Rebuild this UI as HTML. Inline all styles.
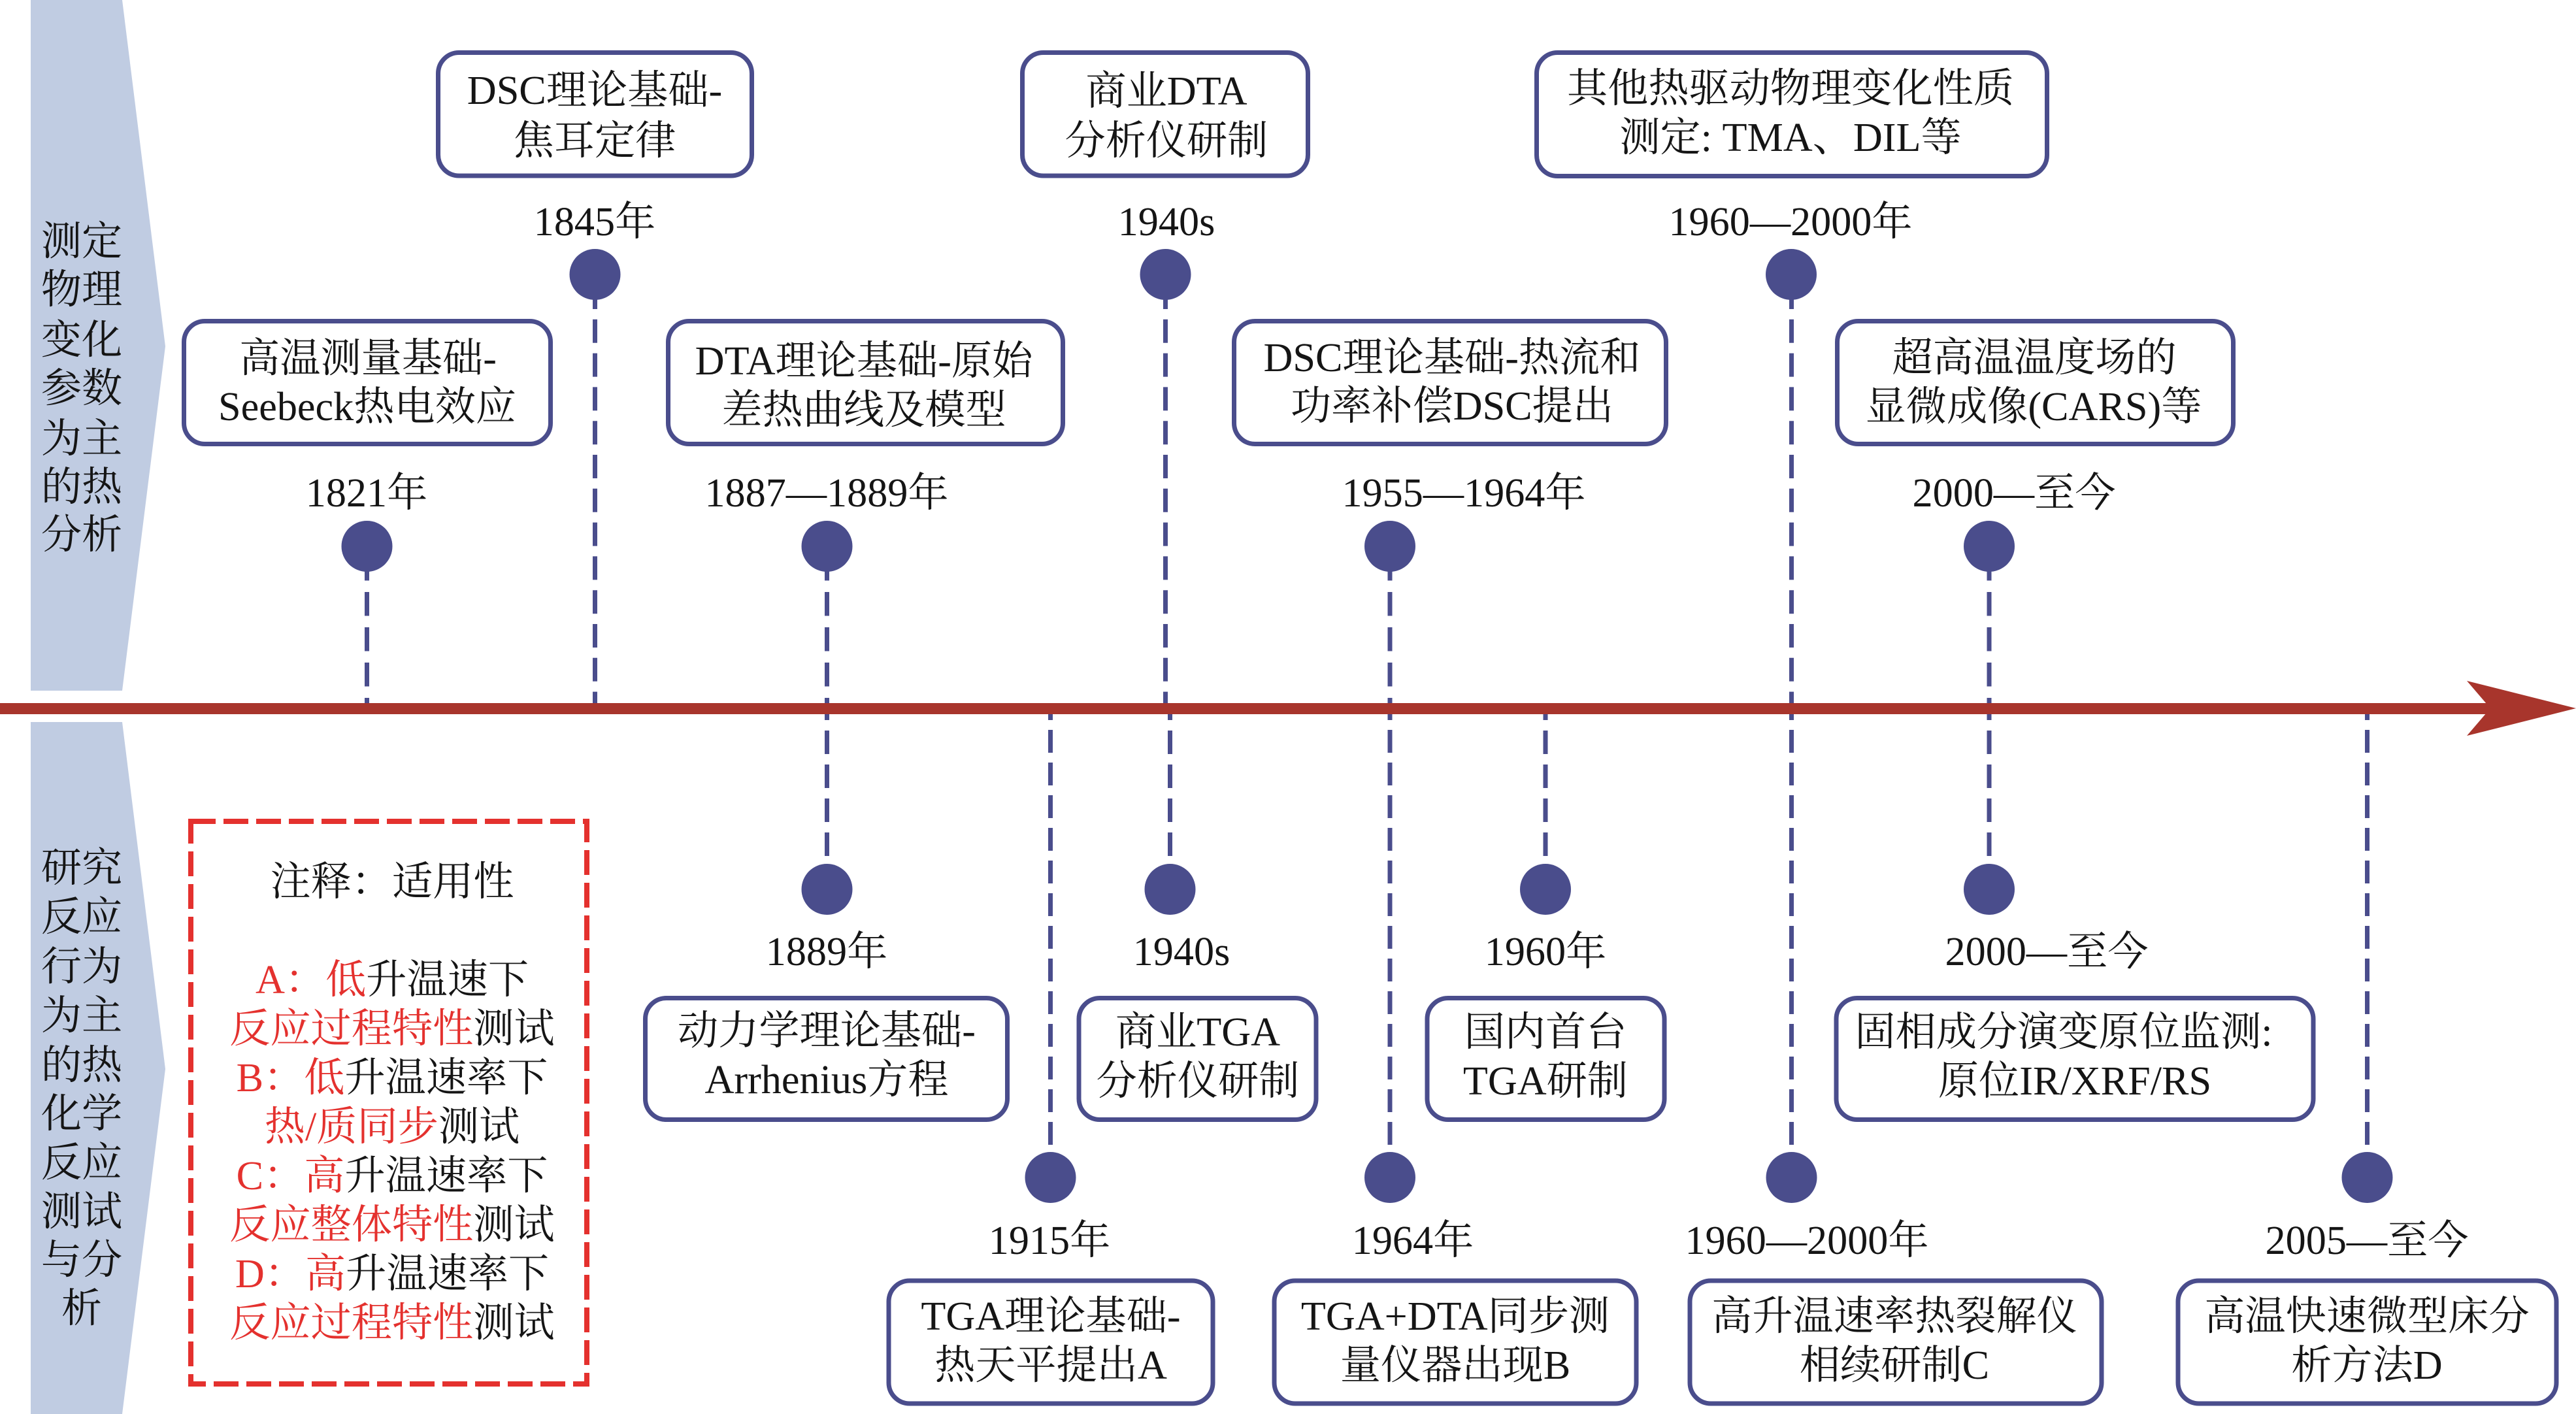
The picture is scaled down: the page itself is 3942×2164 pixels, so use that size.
<!DOCTYPE html>
<html lang="zh-CN"><head><meta charset="utf-8"><title>热分析发展时间线</title>
<style>html,body{margin:0;padding:0;background:#fff;width:3942px;height:2164px;overflow:hidden}
svg{display:block}
text{font-family:"Liberation Serif","Noto Serif CJK SC",serif;font-size:62.2px;fill:#151515;text-anchor:middle}
.b{fill:#fff;stroke:#4a4d8c;stroke-width:7}
.d{stroke:#4a4d8c;stroke-width:7;fill:none}
.u1{stroke-dasharray:36.5 17.5}
.u2{stroke-dasharray:36 15.8}
.l1{stroke-dasharray:36 16;stroke-dashoffset:19}
.l2{stroke-dasharray:35 15;stroke-dashoffset:18}
.c{fill:#4a4d8c}
.r{fill:#e4312e}
</style></head><body>
<svg width="3942" height="2164" viewBox="0 0 3942 2164" xmlns="http://www.w3.org/2000/svg">
<polygon points="47,0 187,0 253,530 187,1057 47,1057" fill="#c0cce2"/>
<polygon points="47,1105 187,1105 253,1636 187,2164 47,2164" fill="#c0cce2"/>
<text x="125" y="390">测定</text><text x="125" y="464">物理</text><text x="125" y="541">变化</text><text x="125" y="615">参数</text><text x="125" y="692">为主</text><text x="125" y="766">的热</text><text x="125" y="839">分析</text>
<text x="125" y="1349">研究</text><text x="125" y="1424">反应</text><text x="125" y="1500">行为</text><text x="125" y="1575">为主</text><text x="125" y="1651">的热</text><text x="125" y="1725">化学</text><text x="125" y="1800">反应</text><text x="125" y="1875">测试</text><text x="125" y="1949">与分</text><text x="125" y="2023">析</text>

<!-- dashed connectors: upper segments -->
<path class="d u1" d="M561.5 852V1085"/><path class="d u1" d="M1265.5 852V1085"/><path class="d u1" d="M2127 852V1085"/><path class="d u1" d="M3044 852V1085"/>
<path class="d u2" d="M910.5 437V1085"/><path class="d u2" d="M1783.5 437V1085"/><path class="d u2" d="M2741.5 437V1085"/>
<!-- lower segments -->
<path class="d l1" d="M1265.5 1085V1310"/><path class="d l1" d="M1790.5 1085V1310"/><path class="d l1" d="M2365 1085V1310"/><path class="d l1" d="M3044 1085V1310"/>
<path class="d l2" d="M1607.5 1085V1752"/><path class="d l2" d="M2127 1085V1752"/><path class="d l2" d="M2741.5 1085V1752"/><path class="d l2" d="M3622.5 1085V1752"/>

<!-- axis -->
<rect x="0" y="1076" width="3815" height="17" fill="#a8352c"/>
<polygon points="3775,1042 3942,1084 3775,1126 3811,1084" fill="#a8352c"/>

<!-- dots -->
<g class="c"><circle cx="561.5" cy="836" r="39"/><circle cx="910.5" cy="420" r="39"/><circle cx="1265.5" cy="836" r="39"/><circle cx="1783.5" cy="420" r="39"/><circle cx="2741" cy="420" r="39"/><circle cx="2127" cy="836" r="39"/><circle cx="3044" cy="836" r="39"/><circle cx="1265.5" cy="1361" r="39"/><circle cx="1790.5" cy="1361" r="39"/><circle cx="2365" cy="1361" r="39"/><circle cx="3044" cy="1361" r="39"/><circle cx="1607.5" cy="1802" r="39"/><circle cx="2127" cy="1802" r="39"/><circle cx="2741.5" cy="1802" r="39"/><circle cx="3622.5" cy="1802" r="39"/></g>

<!-- boxes -->
<rect class="b" x="670.5" y="80.5" width="480" height="188.5" rx="32"/>
<rect class="b" x="281.5" y="491.5" width="561" height="188" rx="32"/>
<rect class="b" x="1022.5" y="491.5" width="604" height="188" rx="32"/>
<rect class="b" x="1564.5" y="80.5" width="437" height="188.5" rx="32"/>
<rect class="b" x="2351.5" y="80.5" width="781" height="189" rx="32"/>
<rect class="b" x="1888.5" y="491.5" width="661" height="188" rx="32"/>
<rect class="b" x="2811.5" y="491.5" width="606" height="188" rx="32"/>
<rect class="b" x="987.5" y="1527.5" width="554" height="186" rx="32"/>
<rect class="b" x="1651" y="1527.5" width="363" height="186" rx="32"/>
<rect class="b" x="2184" y="1527.5" width="363" height="186" rx="32"/>
<rect class="b" x="2810" y="1527.5" width="730" height="186" rx="32"/>
<rect class="b" x="1360" y="1960" width="496" height="188" rx="32"/>
<rect class="b" x="1950" y="1960" width="554" height="188" rx="32"/>
<rect class="b" x="2586" y="1960" width="630" height="188" rx="32"/>
<rect class="b" x="3333" y="1960" width="579" height="188" rx="32"/>

<!-- box text -->
<text x="910" y="159">DSC理论基础-</text><text x="910" y="236">焦耳定律</text>
<text x="1785" y="160">商业DTA</text><text x="1785" y="236">分析仪研制</text>
<text x="2740" y="156">其他热驱动物理变化性质</text><text x="2740" y="231">测定: TMA、DIL等</text>
<text x="563" y="569">高温测量基础-</text><text x="562" y="643">Seebeck热电效应</text>
<text x="1322" y="573">DTA理论基础-原始</text><text x="1322" y="648">差热曲线及模型</text>
<text x="2222" y="568">DSC理论基础-热流和</text><text x="2222" y="642">功率补偿DSC提出</text>
<text x="3113" y="568">超高温温度场的</text><text x="3112" y="643">显微成像(CARS)等</text>
<text x="1265" y="1598">动力学理论基础-</text><text x="1265" y="1673">Arrhenius方程</text>
<text x="1833" y="1600">商业TGA</text><text x="1833" y="1675">分析仪研制</text>
<text x="2365" y="1600">国内首台</text><text x="2365" y="1675">TGA研制</text>
<text x="3158" y="1600">固相成分演变原位监测:</text><text x="3175" y="1675">原位IR/XRF/RS</text>
<text x="1608" y="2035">TGA理论基础-</text><text x="1608" y="2110">热天平提出A</text>
<text x="2227" y="2035">TGA+DTA同步测</text><text x="2227" y="2110">量仪器出现B</text>
<text x="2899" y="2035">高升温速率热裂解仪</text><text x="2899" y="2110">相续研制C</text>
<text x="3622" y="2035">高温快速微型床分</text><text x="3622" y="2110">析方法D</text>

<!-- years -->
<text x="561" y="775">1821年</text><text x="910" y="360">1845年</text><text x="1265" y="775">1887—1889年</text>
<text x="1785" y="360">1940s</text><text x="2740" y="360">1960—2000年</text><text x="2240" y="775">1955—1964年</text><text x="3082" y="775">2000—至今</text>
<text x="1265" y="1477">1889年</text><text x="1808" y="1477">1940s</text><text x="2365" y="1477">1960年</text><text x="3132" y="1477">2000—至今</text>
<text x="1606" y="1919">1915年</text><text x="2162" y="1919">1964年</text><text x="2765" y="1919">1960—2000年</text><text x="3622" y="1919">2005—至今</text>

<!-- note -->
<rect x="292" y="1257" width="606" height="861" fill="none" stroke="#e4312e" stroke-width="8" stroke-dasharray="38 12"/>
<text x="600" y="1370">注释：适用性</text>
<text x="600" y="1520"><tspan class="r">A：低</tspan>升温速下</text>
<text x="600" y="1595"><tspan class="r">反应过程特性</tspan>测试</text>
<text x="600" y="1670"><tspan class="r">B：低</tspan>升温速率下</text>
<text x="600" y="1745"><tspan class="r">热/质同步</tspan>测试</text>
<text x="600" y="1820"><tspan class="r">C：高</tspan>升温速率下</text>
<text x="600" y="1895"><tspan class="r">反应整体特性</tspan>测试</text>
<text x="600" y="1970"><tspan class="r">D：高</tspan>升温速率下</text>
<text x="600" y="2045"><tspan class="r">反应过程特性</tspan>测试</text>
</svg>
</body></html>
